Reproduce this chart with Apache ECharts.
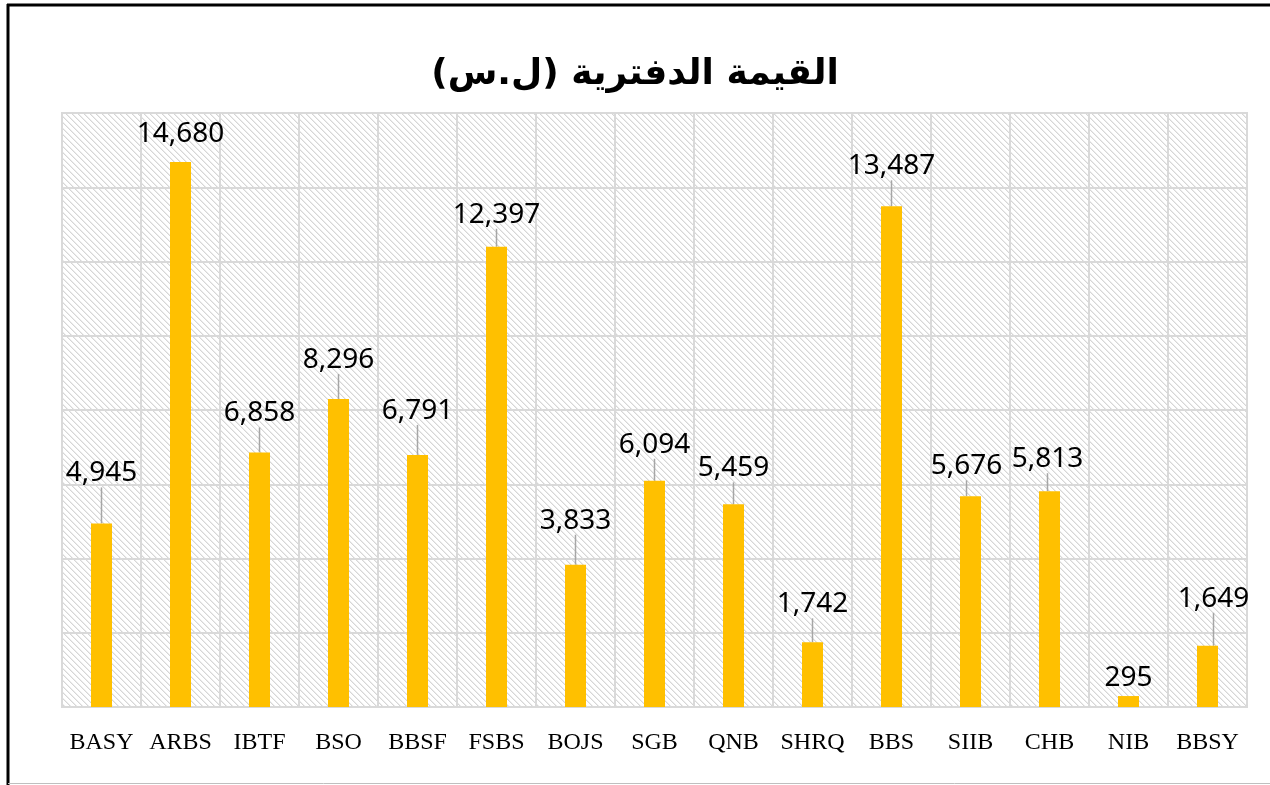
<!DOCTYPE html>
<html>
<head>
<meta charset="utf-8">
<script src="https://cdn.jsdelivr.net/npm/echarts@6/dist/echarts.min.js"></script>
<style>
html,body{margin:0;padding:0;background:#fff;}
#c{width:1270px;height:785px;}
</style>
</head>
<body>
<div id="c"></div>
<script>
const titleText = 'القيمة الدفترية (ل.س)';
const categories = ['BASY','ARBS','IBTF','BSO','BBSF','FSBS','BOJS','SGB','QNB','SHRQ','BBS','SIIB','CHB','NIB','BBSY'];
const values = [4945,14680,6858,8296,6791,12397,3833,6094,5459,1742,13487,5676,5813,295,1649];
const yTicks = [0,2000,4000,6000,8000,10000,12000,14000,16000];

// label placement (style only): offset of the label above the bar, horizontal shift
const labelDy = [-36,-14,-25,-25,-30,-18,-30,-22,-22,-24,-26,-16,-18,-4,-33];
const labelDx = [0,0,0,0,0,0,0,0,0,0,0,-4,-2,0,6];
const showLine = [true,false,true,true,true,true,true,true,true,true,true,true,true,false,true];

// hatch pattern tile
function makePattern(){
  const n = 6;
  const cv = document.createElement('canvas');
  cv.width = n; cv.height = n;
  const ctx = cv.getContext('2d');
  const img = ctx.createImageData(n, n);
  for (let y = 0; y < n; y++) for (let x = 0; x < n; x++) {
    const d = ((x - y) % n + n) % n;
    const i = (y * n + x) * 4;
    let c = 255;
    if (d === 0) c = 214; else if (d === 1) c = 236;
    img.data[i] = c; img.data[i+1] = c; img.data[i+2] = c; img.data[i+3] = 255;
  }
  ctx.putImageData(img, 0, 0);
  return cv;
}

const chart = echarts.init(document.getElementById('c'), null, {renderer:'canvas'});
chart.setOption({
  backgroundColor: '#ffffff',
  animation: false,
  title: {
    text: titleText,
    left: 'center',
    top: 52,
    textStyle: {fontFamily: 'DejaVu Sans', fontWeight: 'bold', fontSize: 36, color: '#000'}
  },
  graphic: [
    {type:'line', shape:{x1:7, y1:5, x2:1270, y2:5}, style:{stroke:'#000', lineWidth:3}},
    {type:'line', shape:{x1:8, y1:4, x2:8, y2:785}, style:{stroke:'#000', lineWidth:3}},
    {type:'line', shape:{x1:8, y1:783.5, x2:1270, y2:783.5}, style:{stroke:'#bfbfbf', lineWidth:1}}
  ],
  grid: {
    left: 62, right: 23, top: 113, bottom: 78,
    show: true,
    backgroundColor: {image: makePattern(), repeat: 'repeat'},
    borderColor: '#d9d9d9', borderWidth: 2
  },
  xAxis: {
    type: 'category',
    data: categories,
    axisLine: {show: true, lineStyle: {color: '#d9d9d9', width: 2}},
    axisTick: {show: false},
    splitLine: {show: true, lineStyle: {color: '#d9d9d9', width: 2}},
    axisLabel: {fontFamily: 'Liberation Serif', fontSize: 24, color: '#000', margin: 24, interval: 0}
  },
  yAxis: {
    type: 'value',
    min: yTicks[0], max: yTicks[yTicks.length-1], interval: yTicks[1]-yTicks[0],
    axisLine: {show: false}, axisTick: {show: false},
    axisLabel: {show: false},
    splitLine: {show: true, lineStyle: {color: '#d9d9d9', width: 2}}
  },
  series: [{
    type: 'bar',
    barWidth: 21,
    data: values.map((v, i) => ({value: v, labelLine: {show: showLine[i]}})),
    itemStyle: {color: '#FFC000'},
    label: {
      show: true, position: 'top', distance: 0,
      fontFamily: 'Noto Sans', fontSize: 28, color: '#000',
      formatter: p => p.value.toLocaleString('en-US')
    },
    labelLine: {show: true, lineStyle: {color: '#a6a6a6', width: 1.5}},
    labelLayout: p => ({dy: labelDy[p.dataIndex], dx: labelDx[p.dataIndex]})
  }]
});
</script>
</body>
</html>
